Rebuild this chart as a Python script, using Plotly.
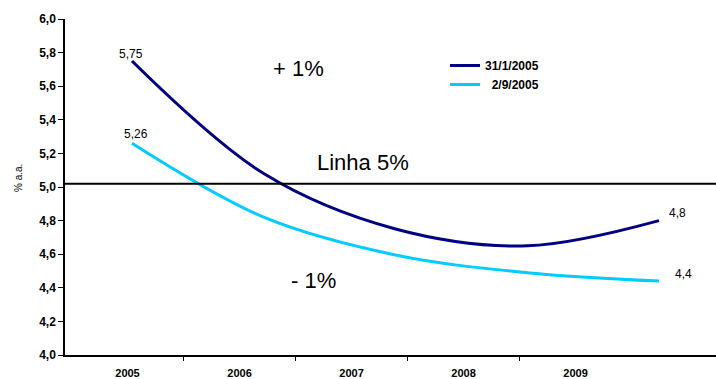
import plotly.graph_objects as go

years = ["2005", "2006", "2007", "2008", "2009"]
serie_jan = [5.75, 5.08, 4.75, 4.65, 4.80]
serie_set = [5.26, 4.82, 4.595, 4.49, 4.44]
names = ["31/1/2005", "\u00a0\u00a02/9/2005"]
labels_jan = ["5,75", "", "", "", "4,8"]
labels_set = ["5,26", "", "", "", "4,4"]
linha = 5.02

FONT = "Liberation Sans, Arial, sans-serif"
idx = list(range(len(years)))

fig = go.Figure()
# helper trace so the primary x/y subplot (with category axis) is drawn
fig.add_trace(go.Scatter(x=[None], y=[None], xaxis="x", yaxis="y", showlegend=False,
                         hoverinfo="skip", mode="lines"))
fig.add_trace(go.Scatter(x=idx, y=serie_jan, name=names[0], mode="lines",
                         line=dict(color="#000080", width=3, shape="spline", smoothing=1.0),
                         xaxis="x2", yaxis="y"))
fig.add_trace(go.Scatter(x=idx, y=serie_set, name=names[1], mode="lines",
                         line=dict(color="#00CCFF", width=3, shape="spline", smoothing=1.0),
                         xaxis="x2", yaxis="y"))

fig.add_shape(type="line", xref="paper", yref="y", x0=0, x1=1, y0=linha, y1=linha,
              line=dict(color="black", width=2))

ann = []
offs_jan = {0: (-1, 7), 4: (18, 8)}
offs_set = {0: (4, 9), 4: (24, 7)}
lab_font = dict(size=12, color="black", family=FONT)
for i, t in enumerate(labels_jan):
    if t:
        dx, dy = offs_jan[i]
        ann.append(dict(x=i, y=serie_jan[i], xref="x2", yref="y", text=t, showarrow=False,
                        xanchor="center", yanchor="middle",
                        xshift=dx, yshift=dy, font=lab_font))
for i, t in enumerate(labels_set):
    if t:
        dx, dy = offs_set[i]
        ann.append(dict(x=i, y=serie_set[i], xref="x2", yref="y", text=t, showarrow=False,
                        xanchor="center", yanchor="middle",
                        xshift=dx, yshift=dy, font=lab_font))

big = dict(size=22, color="black", family=FONT)
for txt, px, py in [("+ 1%", 298, 68), ("Linha 5%", 363, 162), ("- 1%", 313, 280)]:
    ann.append(dict(xref="paper", yref="paper", x=(px - 65) / 651, y=1 - (py - 19) / 336,
                    xanchor="center", yanchor="middle",
                    text=txt, showarrow=False, font=big))
ann.append(dict(xref="paper", yref="paper", x=(18 - 65) / 651, y=1 - (178 - 19) / 336,
                xanchor="center", yanchor="middle", textangle=-90,
                text="% a.a.", showarrow=False, font=dict(size=10, family=FONT, color="black")))

fig.update_layout(
    width=716, height=379,
    margin=dict(l=65, r=0, t=19, b=24),
    paper_bgcolor="white", plot_bgcolor="white",
    separators=", ",
    font=dict(family=FONT, size=11, color="black"),
    showlegend=True,
    legend=dict(x=(445 - 65) / 651, y=1 - (51 - 19) / 336, xanchor="left", yanchor="top",
                bgcolor="rgba(0,0,0,0)",
                font=dict(size=12, family=FONT, color="black", weight="bold"),
                itemwidth=30, tracegroupgap=0),
    annotations=ann,
    xaxis=dict(range=[-0.558, 5.254], tickmode="array", tickvals=idx, ticktext=years,
               ticks="", showline=True, linecolor="black", linewidth=1.5,
               ticklabelstandoff=7,
               tickfont=dict(size=11, family=FONT, color="black", weight="bold"),
               showgrid=False, zeroline=False, fixedrange=True,
               minor=dict(tickmode="array", tickvals=[0.5, 1.5, 2.5, 3.5],
                          ticks="outside", ticklen=4, tickcolor="black", tickwidth=1)),
    xaxis2=dict(range=[-0.5085, 4.4326], overlaying="x", visible=False, fixedrange=True),
    yaxis=dict(range=[4, 6], dtick=0.2, tick0=4, tickformat=".1f",
               ticks="outside", ticklen=5, tickcolor="black",
               tickfont=dict(size=12, family=FONT, color="black", weight="bold"),
               showline=True, linecolor="black", linewidth=1.5,
               showgrid=False, zeroline=False, fixedrange=True),
)

fig.write_html("out.html")
